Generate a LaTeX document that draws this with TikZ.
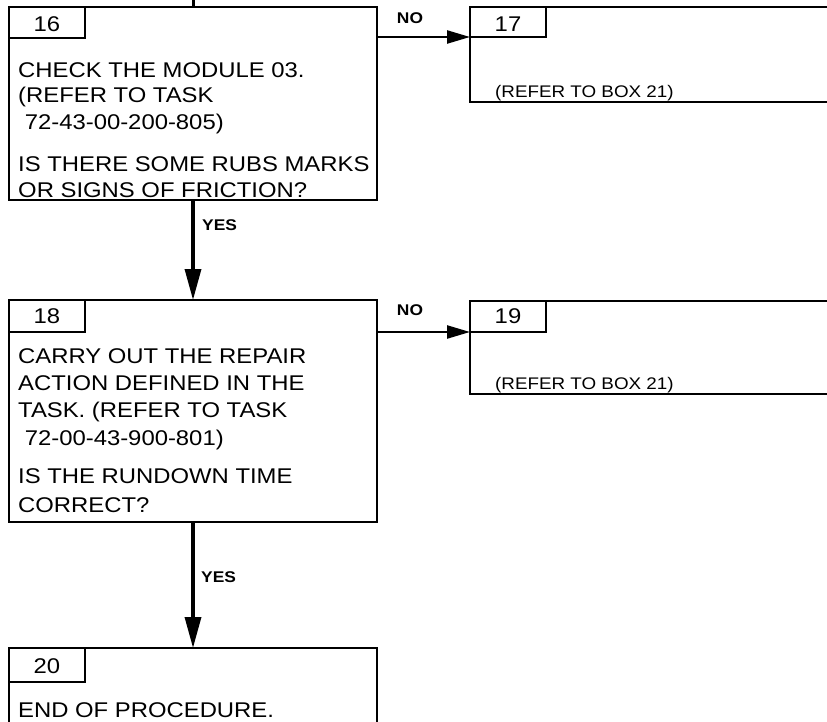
\documentclass[tikz,border=0pt]{standalone}
\usepackage{fontspec}
\setmainfont{Liberation Sans}[FakeStretch=1.12]
\usetikzlibrary{arrows.meta}
\begin{document}
\begin{tikzpicture}[x=1pt,y=-1pt,
  box/.style={draw, line width=2.6pt, anchor=north west, inner sep=0pt, outer sep=0pt},
  tabbox/.style={draw, line width=2.3pt, anchor=north west, inner sep=0pt, outer sep=0pt, minimum width=76pt},
  num/.style={anchor=base, inner sep=0pt, font=\fontsize{21.3}{24}\selectfont},
  txt/.style={anchor=base west, inner sep=0pt, font=\fontsize{21.3}{24}\selectfont},
  small/.style={anchor=base west, inner sep=0pt, font=\fontsize{16.8}{20}\selectfont},
  lbl/.style={anchor=base, inner sep=0pt, font=\bfseries\fontsize{15.5}{18}\selectfont},
  harrow/.style={line width=2.4pt, -{Triangle[length=23pt,width=13pt]}},
  varrow/.style={line width=3.4pt, -{Triangle[length=31pt,width=16pt]}}]
\useasboundingbox (0,0) rectangle (827,722);
\clip (0,0) rectangle (827,722);

% boxes
\node[box, minimum width=368pt, minimum height=193pt] (b16) at (9,7) {};
\node[tabbox, minimum height=31pt] (t16) at (9,7) {};
\node[num] (n16) at (47,32) {16};

\node[box, minimum width=400pt, minimum height=95pt] (b17) at (470,7) {};
\node[tabbox, minimum height=30pt] (t17) at (470,7) {};
\node[num] (n17) at (508,32) {17};
\node[small] (r17) at (495,98) {(REFER TO BOX 21)};

\node[box, minimum width=368pt, minimum height=222pt] (b18) at (9,300) {};
\node[tabbox, minimum height=32pt] (t18) at (9,300) {};
\node[num] (n18) at (47,323) {18};

\node[box, minimum width=400pt, minimum height=93pt] (b19) at (470,301) {};
\node[tabbox, minimum height=31pt] (t19) at (470,301) {};
\node[num] (n19) at (508,323) {19};
\node[small] (r19) at (495,389) {(REFER TO BOX 21)};

\node[box, minimum width=368pt, minimum height=120pt] (b20) at (9,648) {};
\node[tabbox, minimum height=34pt] (t20) at (9,648) {};
\node[num] (n20) at (47,673) {20};

% texts
\node[txt] (a1) at (18,78) {CHECK THE MODULE 03.};
\node[txt] (a2) at (18,103) {(REFER TO TASK};
\node[txt] (a3) at (18,130) {\ 72-43-00-200-805)};
\node[txt] (a4) at (18,172) {IS THERE SOME RUBS MARKS};
\node[txt] (a5) at (18,197) {OR SIGNS OF FRICTION?};

\node[txt] (c1) at (18,363) {CARRY OUT THE REPAIR};
\node[txt] (c2) at (18,390) {ACTION DEFINED IN THE};
\node[txt] (c3) at (18,417) {TASK. (REFER TO TASK};
\node[txt] (c4) at (18,445) {\ 72-00-43-900-801)};
\node[txt] (c5) at (18,483) {IS THE RUNDOWN TIME};
\node[txt] (c6) at (18,512) {CORRECT?};

\node[txt] (e1) at (18,717) {END OF PROCEDURE.};

% connectors
\coordinate (topin) at (193,0);
\draw[line width=3pt] (topin) -- (b16.north);
\draw[harrow] (t17.south west -| b16.east) -- (t17.south west);
\draw[harrow] (t19.south west -| b18.east) -- (t19.south west);
\draw[varrow] (b16.south) -- (b18.north);
\draw[varrow] (b18.south) -- (b20.north);

% labels
\node[lbl] (no1) at (410,23.5) {NO};
\node[lbl] (no2) at (410,315) {NO};
\node[lbl, anchor=base west] (yes1) at (202,230) {YES};
\node[lbl, anchor=base west] (yes2) at (201,582) {YES};
\end{tikzpicture}
\end{document}
